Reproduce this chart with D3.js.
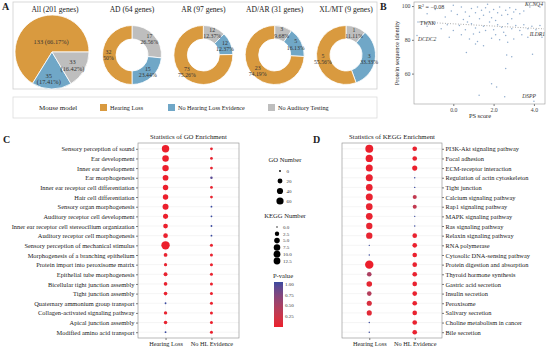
<!DOCTYPE html>
<html>
<head>
<meta charset="utf-8">
<script src="https://cdn.jsdelivr.net/npm/d3@7"></script>
<style>
  body { margin: 0; background: #fff; }
  svg { display: block; font-family: "Liberation Serif", "Times New Roman", serif; }
</style>
</head>
<body>
<svg></svg>
<script>
(function (d3) {
  'use strict';

  // ---- panel A data ----
  const groups = ['All (201 genes)', 'AD (64 genes)', 'AR (97 genes)', 'AD/AR (31 genes)', 'XL/MT (9 genes)'];
  const statusLabels = ['Hearing Loss', 'No Hearing Loss Evidence', 'No Auditory Testing'];
  const hearingLoss = [133, 32, 73, 23, 5];
  const noHLEvidence = [35, 15, 12, 5, 3];
  const noTesting = [33, 17, 12, 3, 1];

  // ---- panel B data ----
  const psScore = [-1.3, -0.9, -0.4, -0.1, 0.2, 0.4, 0.6, 0.8, 0.9, 1.1, 1.2, 1.4, 1.5, 1.6, 1.8, 1.9, 2.0, 2.2, 2.3, 2.4,
    2.6, 2.7, 2.8, 3.0, 3.1, 3.3, 3.5, 0.5, 1.3, 2.1, 2.9, 3.8, 0.0, 1.7,
    -1.6, -1.3, -0.9, -0.6, -0.3, 0.0, 0.3, 0.6, 0.9, 1.1, 1.3, 1.5, 1.8, 2.0, 2.2, 2.4, 2.5, 2.7, 2.9, 3.1,
    3.3, 3.5, 3.7, 3.9, 4.1, 4.3, 1.6, 0.7,
    -0.2, 0.4, 0.8, 1.0, 1.2, 1.5, 1.9, 2.1, 2.3, 2.6, 3.0, 3.4, 3.7, 1.1, 2.7,
    0.65, 2.65, 2.9, 3.93, 2.6, 1.9, 2.15, 1.28, 2.55];
  const seqIdentity = [95.5, 98, 93.5, 97, 95, 99.5, 96.5, 94, 98.5, 96, 99.5, 97.5, 94.5, 99, 96.5, 93, 98, 96, 99.5, 94.5,
    97.5, 95, 99, 96.5, 98, 95.5, 97, 92, 92.5, 91.5, 92.5, 99.5, 100.5, 101,
    90.5, 88, 90, 86.5, 89, 85.5, 88.5, 86, 89.5, 87, 84.5, 88, 90.5, 86, 89, 87.5, 84.5, 89.5, 86.5, 88.5,
    85.5, 89, 86.5, 88, 86, 88.5, 85.5, 90.5,
    81.5, 83, 80.5, 83.5, 79, 76.5, 81, 83, 80, 82.5, 80.5, 83, 81.5, 77.5, 78.5,
    72.5, 71, 70, 71.5, 63, 54, 52, 47.2, 46.3];
  const labelGenes = ['KCNQ4', 'TWNK', 'DCDC2', 'ILDR1', 'DSPP'];
  const labelPS = [4.3, -1.75, -1.8, 4.4, 4.0];
  const labelIdentity = [99.5, 90.5, 82.5, 81.5, 43.7];
  const fitPS = [-1.7, 4.5];
  const fitIdentity = [90.6, 86.5];
  const rSquared = '-0.08';

  // ---- panel C data ----
  const goTerms = ['Sensory perception of sound', 'Ear development', 'Inner ear development', 'Ear morphogenesis',
    'Inner ear receptor cell differentiation', 'Hair cell differentiation', 'Sensory organ morphogenesis',
    'Auditory receptor cell development', 'Inner ear receptor cell stereocilium organization',
    'Auditory receptor cell morphogenesis', 'Sensory perception of mechanical stimulus',
    'Morphogenesis of a branching epithelium', 'Protein import into peroxisome matrix',
    'Epithelial tube morphogenesis', 'Bicellular tight junction assembly', 'Tight junction assembly',
    'Quaternary ammonium group transport', 'Collagen-activated signaling pathway',
    'Apical junction assembly', 'Modified amino acid transport'];
  const goCountHL = [65, 46, 44, 32, 28, 27, 36, 22, 18, 17, 90, 8, 4, 9, 7, 7, 0, 5, 6, 0];
  const goCountNoHL = [2, 2, 2, 1, 2, 2, 0, 0, 0, 0, 3, 3, 3, 3, 3, 3, 3, 3, 3, 3];
  const goPHL = [0.001, 0.001, 0.001, 0.001, 0.001, 0.001, 0.001, 0.001, 0.001, 0.01, 0.001, 0.02, 0.03, 0.02, 0.02, 0.02, 1, 0.03, 0.03, 1];
  const goPNoHL = [0.03, 0.03, 0.03, 0.9, 0.03, 0.03, 1, 1, 1, 1, 0.02, 0.02, 0.01, 0.02, 0.01, 0.01, 0.01, 0.01, 0.01, 0.01];

  // ---- panel D data ----
  const keggTerms = ['PI3K-Akt signaling pathway', 'Focal adhesion', 'ECM-receptor interaction',
    'Regulation of actin cytoskeleton', 'Tight junction', 'Calcium signaling pathway', 'Rap1 signaling pathway',
    'MAPK signaling pathway', 'Ras signaling pathway', 'Relaxin signaling pathway', 'RNA polymerase',
    'Cytosolic DNA-sensing pathway', 'Protein digestion and absorption', 'Thyroid hormone synthesis',
    'Gastric acid secretion', 'Insulin secretion', 'Peroxisome', 'Salivary secretion',
    'Choline metabolism in cancer', 'Bile secretion'];
  const keggCountHL = [12, 10, 9, 9, 8, 9, 8, 8, 7, 7, 0, 0, 14, 3, 5, 3, 4, 4, 0, 0];
  const keggCountNoHL = [3, 3, 4, 0, 0, 2, 2, 0, 0, 3, 3, 3, 3, 3, 3, 3, 3, 3, 3, 3];
  const keggPHL = [0.01, 0.01, 0.01, 0.02, 0.02, 0.02, 0.03, 0.02, 0.04, 0.04, 1, 1, 0.001, 0.45, 0.05, 0.4, 0.15, 0.08, 1, 1];
  const keggPNoHL = [0.02, 0.02, 0.01, 1, 1, 0.3, 0.3, 1, 1, 0.02, 0.01, 0.01, 0.02, 0.02, 0.02, 0.02, 0.02, 0.02, 0.02, 0.02];

  const columns = ['Hearing Loss', 'No HL Evidence'];
  const goLegendValues = [0, 20, 40, 60];
  const keggLegendValues = [0, 2.5, 5, 7.5, 10, 12.5];
  const pLegendValues = [1, 0.75, 0.5, 0.25];

  // ---- setup ----
  const svg = d3.select('svg').attr('width', 546).attr('height', 350);
  const txt = '#222';

  const statusColor = d3.scaleOrdinal(statusLabels, ['#D99A3F', '#70A7C7', '#BEBEBE']);
  const pColor = d3.scaleLinear().domain([0, 1]).range(['#EC1F2C', '#3A4A9F']).interpolate(d3.interpolateLab);
  const pct = (v, t) => (+(v / t * 100).toFixed(2)) + '%';

  const letter = (x, y, s) => svg.append('text').attr('x', x).attr('y', y)
    .attr('font-size', 10).attr('font-weight', 'bold').attr('fill', txt).text(s);

  // ================= Panel A =================
  letter(2, 10, 'A');
  svg.append('rect').attr('x', 13).attr('y', 2).attr('width', 364).attr('height', 87)
    .attr('fill', 'none').attr('stroke', '#cfcfcf').attr('stroke-width', 0.8);
  svg.append('rect').attr('x', 13).attr('y', 97).attr('width', 364).attr('height', 21)
    .attr('fill', 'none').attr('stroke', '#dcdcdc').attr('stroke-width', 0.8);

  // big pie: counter-clockwise from 3 o'clock
  const allSlices = statusLabels.map((s, i) => ({ status: s, value: [hearingLoss, noHLEvidence, noTesting][i][0] }));
  const allTotal = d3.sum(allSlices, d => d.value);
  const bigPie = d3.pie().sort(null).value(d => d.value)
    .startAngle(Math.PI / 2).endAngle(Math.PI / 2 - 2 * Math.PI);
  const bigR = 37;
  const gAll = svg.append('g').attr('transform', 'translate(52,52)');
  gAll.selectAll('path').data(bigPie(allSlices)).enter().append('path')
    .attr('d', d3.arc().innerRadius(0).outerRadius(bigR))
    .attr('fill', d => statusColor(d.data.status))
    .attr('stroke', '#fff').attr('stroke-width', 0.8);
  const bigLabelR = [12, 27, 27];
  gAll.selectAll('text.lab').data(bigPie(allSlices)).enter().append('text')
    .attr('class', 'lab')
    .attr('transform', (d, i) => {
      const c = d3.arc().innerRadius(bigLabelR[i]).outerRadius(bigLabelR[i]).centroid(d);
      return `translate(${c[0] + (i === 0 ? 5 : -3)},${c[1]})`;
    })
    .attr('text-anchor', 'middle').attr('font-size', 6.4).attr('fill', '#333')
    .each(function (d, i) {
      const t = d3.select(this);
      const p = '(' + pct(d.data.value, allTotal) + ')';
      if (i === 0) {
        t.append('tspan').attr('x', 0).attr('dy', '0.35em').text(d.data.value + ' ' + p);
      } else {
        t.append('tspan').attr('x', 0).attr('dy', '-0.2em').text(d.data.value);
        t.append('tspan').attr('x', 0).attr('dy', '1.05em').text(p);
      }
    });
  svg.append('text').attr('x', 55).attr('y', 12).attr('text-anchor', 'middle')
    .attr('font-size', 7.6).attr('fill', txt).text(groups[0]);

  // donuts: clockwise from 12 o'clock, order grey, blue, orange
  const donutX = d3.scalePoint().domain(groups.slice(1)).range([132, 346]);
  const donutPie = d3.pie().sort(null).value(d => d.value);
  const dOuter = 29.5, dInner = 16, dLabel = 23.5;
  groups.slice(1).forEach((grp, k) => {
    const i = k + 1;
    const slices = [
      { status: statusLabels[2], value: noTesting[i] },
      { status: statusLabels[1], value: noHLEvidence[i] },
      { status: statusLabels[0], value: hearingLoss[i] }
    ];
    const total = d3.sum(slices, d => d.value);
    const g = svg.append('g').attr('transform', `translate(${donutX(grp)},55)`);
    g.selectAll('path').data(donutPie(slices)).enter().append('path')
      .attr('d', d3.arc().innerRadius(dInner).outerRadius(dOuter))
      .attr('fill', d => statusColor(d.data.status))
      .attr('stroke', '#fff').attr('stroke-width', 0.8);
    g.selectAll('text').data(donutPie(slices)).enter().append('text')
      .attr('transform', d => `translate(${d3.arc().innerRadius(dLabel).outerRadius(dLabel).centroid(d)})`)
      .attr('text-anchor', 'middle').attr('font-size', 5.8).attr('fill', '#333')
      .each(function (d) {
        const t = d3.select(this);
        t.append('tspan').attr('x', 0).attr('dy', '-0.2em').text(d.data.value);
        t.append('tspan').attr('x', 0).attr('dy', '1.05em').text(pct(d.data.value, total));
      });
    svg.append('text').attr('x', donutX(grp)).attr('y', 12).attr('text-anchor', 'middle')
      .attr('font-size', 7.6).attr('fill', txt).text(grp);
  });

  // legend
  svg.append('text').attr('x', 39).attr('y', 110).attr('font-size', 7).attr('fill', txt).text('Mouse model');
  const legX = [100, 168, 268];
  statusLabels.forEach((s, i) => {
    svg.append('rect').attr('x', legX[i]).attr('y', 104).attr('width', 7).attr('height', 7)
      .attr('fill', statusColor(s));
    svg.append('text').attr('x', legX[i] + 10).attr('y', 110).attr('font-size', 6.2)
      .attr('fill', txt).text(s);
  });

  // helper: axis text in the page serif font
  const styleAxis = (a, size, col) => {
    a.attr('font-family', null);
    a.select('.domain').remove();
    a.selectAll('text').attr('font-size', size).attr('fill', col);
    a.selectAll('line').attr('stroke', '#777');
  };

  // ================= Panel B =================
  letter(380, 10, 'B');
  const bx = d3.scaleLinear().domain([-1.95, 4.55]).range([414, 545]);
  const by = d3.scaleLinear().domain([42, 102.4]).range([104, 2]);
  const gB = svg.append('g');
  gB.append('g').attr('transform', 'translate(0,104)')
    .call(d3.axisBottom(bx).tickValues([0, 2, 4]).tickSize(2).tickPadding(1.5))
    .call(a => styleAxis(a, 5.8, '#444'));
  gB.append('g').attr('transform', 'translate(414,0)')
    .call(d3.axisLeft(by).tickValues([60, 80, 100]).tickSize(2).tickPadding(1.5))
    .call(a => styleAxis(a, 5.8, '#444'));
  gB.append('rect').attr('x', 414).attr('y', 2).attr('width', 131).attr('height', 102)
    .attr('fill', 'none').attr('stroke', '#999').attr('stroke-width', 0.6);
  gB.append('line')
    .attr('x1', bx(fitPS[0])).attr('y1', by(fitIdentity[0]))
    .attr('x2', bx(fitPS[1])).attr('y2', by(fitIdentity[1]))
    .attr('stroke', '#555').attr('stroke-width', 0.6).attr('stroke-dasharray', '0.8,1.8');
  const pts = psScore.map((x, i) => ({ x, y: seqIdentity[i] }))
    .concat(labelPS.map((x, i) => ({ x, y: labelIdentity[i] })));
  gB.selectAll('circle').data(pts).enter().append('circle')
    .attr('cx', d => bx(d.x)).attr('cy', d => by(d.y)).attr('r', 0.75)
    .attr('fill', '#7E9FC6').attr('opacity', 0.85);
  const labAnchor = ['end', 'start', 'start', 'end', 'end'];
  const labDx = [3, 2, 1, 3, 2];
  const labDy = [-1, 2.5, 5, -1, -3];
  gB.selectAll('text.gene').data(labelGenes).enter().append('text').attr('class', 'gene')
    .attr('x', (d, i) => bx(labelPS[i]) + labDx[i])
    .attr('y', (d, i) => by(labelIdentity[i]) + labDy[i])
    .attr('text-anchor', (d, i) => labAnchor[i])
    .attr('font-size', 5.6).attr('font-style', 'italic').attr('fill', '#333').text(d => d);
  gB.append('text').attr('x', 418).attr('y', 8.5).attr('font-size', 6).attr('fill', '#333')
    .html('R<tspan dy="-2" font-size="4">2</tspan><tspan dy="2"> = \u2212' + rSquared.slice(1) + '</tspan>');
  gB.append('text').attr('x', 480).attr('y', 118).attr('text-anchor', 'middle')
    .attr('font-size', 6.4).attr('fill', txt).text('PS score');
  gB.append('text').attr('transform', 'translate(399,53) rotate(-90)').attr('text-anchor', 'middle')
    .attr('font-size', 6.4).attr('fill', txt).text('Protein sequence identity');

  // ================= Panels C & D =================
  const goR = d3.scaleSqrt().domain([0, 90]).range([0.9, 4.2]);
  const keggR = d3.scaleSqrt().domain([0, 14]).range([0.7, 4.2]);

  function dotPlot(opts) {
    const { x0, x1, terms, countHL, countNoHL, pHL, pNoHL, rScale, side, title } = opts;
    const top = 143, bottom = 338;
    const x = d3.scalePoint().domain(columns).range([x0, x1]).padding(0.6);
    const y = d3.scalePoint().domain(terms).range([top, bottom]).padding(0.6);
    const g = svg.append('g');
    g.selectAll('line.grid').data(terms).enter().append('line').attr('class', 'grid')
      .attr('x1', x0).attr('x2', x1).attr('y1', d => y(d)).attr('y2', d => y(d))
      .attr('stroke', '#ebebeb').attr('stroke-width', 0.5);
    g.selectAll('line.vgrid').data(columns).enter().append('line').attr('class', 'vgrid')
      .attr('y1', top).attr('y2', bottom).attr('x1', d => x(d)).attr('x2', d => x(d))
      .attr('stroke', '#f2f2f2').attr('stroke-width', 0.5);
    const cells = [];
    terms.forEach((t, i) => {
      cells.push({ term: t, col: columns[0], n: countHL[i], p: pHL[i] });
      cells.push({ term: t, col: columns[1], n: countNoHL[i], p: pNoHL[i] });
    });
    g.selectAll('circle').data(cells).enter().append('circle')
      .attr('cx', d => x(d.col)).attr('cy', d => y(d.term))
      .attr('r', d => rScale(d.n)).attr('fill', d => pColor(d.p));
    g.append('rect').attr('x', x0).attr('y', top).attr('width', x1 - x0).attr('height', bottom - top)
      .attr('fill', 'none').attr('stroke', '#8a8a8a').attr('stroke-width', 0.6);
    const axisY = side === 'left' ? d3.axisLeft(y) : d3.axisRight(y);
    g.append('g').attr('transform', `translate(${side === 'left' ? x0 : x1},0)`)
      .call(axisY.tickSize(2).tickPadding(1.5))
      .call(a => styleAxis(a, 6.4, txt));
    g.append('g').attr('transform', `translate(0,${bottom})`)
      .call(d3.axisBottom(x).tickSize(2).tickPadding(2))
      .call(a => styleAxis(a, 6.3, txt));
    g.append('text').attr('x', (x0 + x1) / 2).attr('y', 139).attr('text-anchor', 'middle')
      .attr('font-size', 6.8).attr('fill', txt).text(title);
  }

  letter(3, 143, 'C');
  dotPlot({ x0: 138, x1: 239, terms: goTerms, countHL: goCountHL, countNoHL: goCountNoHL,
    pHL: goPHL, pNoHL: goPNoHL, rScale: goR, side: 'left', title: 'Statistics of GO Enrichment' });
  letter(313, 143, 'D');
  dotPlot({ x0: 342, x1: 442, terms: keggTerms, countHL: keggCountHL, countNoHL: keggCountNoHL,
    pHL: keggPHL, pNoHL: keggPNoHL, rScale: keggR, side: 'right', title: 'Statistics of KEGG Enrichment' });

  // ---- shared legends ----
  const lg = svg.append('g');
  lg.append('text').attr('x', 285).attr('y', 162).attr('text-anchor', 'middle')
    .attr('font-size', 6.6).attr('fill', txt).text('GO Number');
  const goLy = d3.scalePoint().domain(goLegendValues).range([171, 201]);
  goLegendValues.forEach(v => {
    lg.append('circle').attr('cx', 280).attr('cy', goLy(v)).attr('r', goR(v)).attr('fill', '#000');
    lg.append('text').attr('x', 286.5).attr('y', goLy(v)).attr('dy', '0.35em')
      .attr('font-size', 5).attr('fill', '#333').text(v);
  });
  lg.append('text').attr('x', 285).attr('y', 218).attr('text-anchor', 'middle')
    .attr('font-size', 6.6).attr('fill', txt).text('KEGG Number');
  const keggLy = d3.scalePoint().domain(keggLegendValues).range([227, 261]);
  keggLegendValues.forEach(v => {
    lg.append('circle').attr('cx', 277).attr('cy', keggLy(v)).attr('r', Math.min(keggR(v), 3.4)).attr('fill', '#000');
    lg.append('text').attr('x', 283).attr('y', keggLy(v)).attr('dy', '0.35em')
      .attr('font-size', 5).attr('fill', '#333').text(d3.format('.1f')(v));
  });
  lg.append('text').attr('x', 283).attr('y', 278).attr('text-anchor', 'middle')
    .attr('font-size', 6.6).attr('fill', txt).text('P-value');
  const pY = d3.scaleLinear().domain([0, 1]).range([327, 284]);
  const grad = svg.append('defs').append('linearGradient').attr('id', 'pgrad')
    .attr('x1', 0).attr('y1', 1).attr('x2', 0).attr('y2', 0);
  d3.range(0, 1.0001, 0.1).forEach(t => {
    grad.append('stop').attr('offset', t).attr('stop-color', pColor(t));
  });
  lg.append('rect').attr('x', 274).attr('y', pY(1) - 2).attr('width', 9).attr('height', pY(0) - pY(1) + 2)
    .attr('fill', 'url(#pgrad)');
  pLegendValues.forEach(v => {
    lg.append('text').attr('x', 285).attr('y', pY(v)).attr('dy', '0.35em')
      .attr('font-size', 5).attr('fill', '#333').text(d3.format('.2f')(v));
  });
}(d3));
</script>
</body>
</html>
